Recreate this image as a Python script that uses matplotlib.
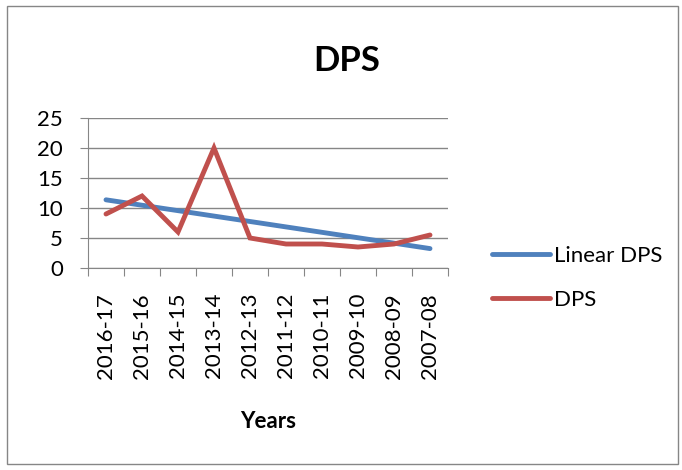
import numpy as np
import matplotlib
matplotlib.use("Agg")
import matplotlib.pyplot as plt
from matplotlib.patches import Rectangle

# ---------------------------------------------------------
# Data
# ---------------------------------------------------------
years = ["2016-17", "2015-16", "2014-15", "2013-14", "2012-13",
         "2011-12", "2010-11", "2009-10", "2008-09", "2007-08"]
dps = [9, 12, 6, 20, 5, 4, 4, 3.5, 4, 5.5]

x = np.arange(1, len(years) + 1)
slope, intercept = np.polyfit(x, dps, 1)
linear_dps = slope * x + intercept

# ---------------------------------------------------------
# Plot
# ---------------------------------------------------------
plt.rcParams["font.family"] = ["Lato", "DejaVu Sans"]

fig = plt.figure(figsize=(6.82, 4.7), dpi=100)
ax = fig.add_axes([88 / 682, 1 - 268 / 470, 360 / 682, 150 / 470])

blue = "#4F81BD"
red = "#C0504D"
grid_col = "#868686"

ax.plot(x, linear_dps, color=blue, lw=3.5, solid_capstyle="round", label="Linear DPS", zorder=3)
ax.plot(x, dps, color=red, lw=3.5, solid_capstyle="round", solid_joinstyle="miter", label="DPS", zorder=4)

ax.set_xlim(0.5, len(years) + 0.5)
ax.set_ylim(0, 25)
ax.set_yticks([0, 5, 10, 15, 20, 25])
ax.yaxis.grid(True, color=grid_col, lw=1)
ax.set_axisbelow(True)

# category labels between tick marks (Excel style)
ax.set_xticks(np.arange(0.5, len(years) + 1, 1))
ax.set_xticklabels([])
ax.set_xticks(x, minor=True)
ax.set_xticklabels(years, minor=True, rotation=90, fontsize=16)
ax.tick_params(axis="x", which="minor", length=0, pad=18)
ax.tick_params(axis="x", which="major", length=6, color=grid_col, direction="out")
ax.tick_params(axis="y", length=6, color=grid_col, labelsize=16, pad=12)

for s in ["top", "right"]:
    ax.spines[s].set_visible(False)
for s in ["left", "bottom"]:
    ax.spines[s].set_color(grid_col)

ax.set_xlabel("Years", fontsize=16, fontweight="bold", labelpad=23)
ax.set_title("DPS", fontsize=25, fontweight="bold", x=(347 - 88) / 360, pad=34)

ax.legend(loc="center left", bbox_to_anchor=(472 / 682, 1 - 278 / 470),
          bbox_transform=fig.transFigure, frameon=False, fontsize=16,
          handlelength=2.6, handletextpad=0.2, labelspacing=1.1)

fig.patches.append(Rectangle((7 / 682, 6 / 470), 671 / 682, 458 / 470,
                             transform=fig.transFigure, fill=False,
                             edgecolor=grid_col, lw=1))

fig.savefig("out.png", dpi=100)
